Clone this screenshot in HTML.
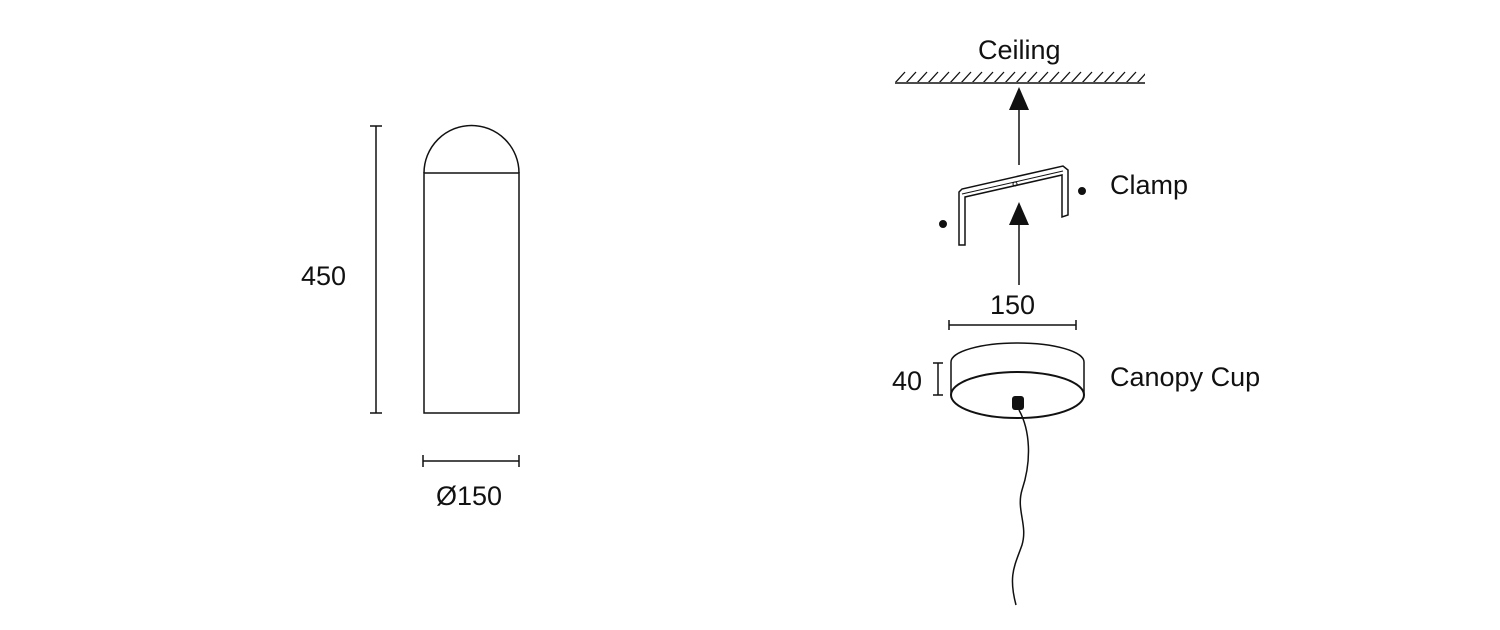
<!DOCTYPE html>
<html><head><meta charset="utf-8"><style>
html,body{margin:0;padding:0;background:#fff;}
svg{display:block;}
text{font-family:"Liberation Sans",sans-serif;fill:#111;font-size:27px;}
</style></head><body>
<svg width="1500" height="630" viewBox="0 0 1500 630" xmlns="http://www.w3.org/2000/svg">
<defs><pattern id="h" x="895" y="71" width="11" height="12" patternUnits="userSpaceOnUse"><line x1="0" y1="12" x2="10" y2="1" stroke="#111" stroke-width="1.3"/></pattern></defs>
<g fill="none" stroke="#111" stroke-width="1.5">
<rect x="424" y="173" width="95" height="240"/>
<path d="M424 173 A47.5 47.5 0 0 1 519 173"/>
<line x1="376" y1="126" x2="376" y2="413"/>
<line x1="370" y1="126" x2="382" y2="126"/>
<line x1="370" y1="413" x2="382" y2="413"/>
<line x1="423" y1="461" x2="519" y2="461"/>
<line x1="423" y1="455" x2="423" y2="467"/>
<line x1="519" y1="455" x2="519" y2="467"/>
<line x1="895" y1="83" x2="1145" y2="83"/>
<line x1="1019" y1="100" x2="1019" y2="165"/>
<line x1="1019" y1="220" x2="1019" y2="285"/>
<path d="M959 192 L962 189 L1063 166 L1068 170 L1068 215 L1062 217 L1062 175 L965 197 L965 245 L959 245 Z"/>
<line x1="962" y1="194" x2="1063" y2="171" stroke-width="1"/>
<line x1="949" y1="325" x2="1076" y2="325"/>
<line x1="949" y1="320" x2="949" y2="330"/>
<line x1="1076" y1="320" x2="1076" y2="330"/>
<line x1="938" y1="363" x2="938" y2="395"/>
<line x1="933" y1="363" x2="943" y2="363"/>
<line x1="933" y1="395" x2="943" y2="395"/>
<path d="M951 362 A66.5 19 0 0 1 1084 362 L1084 395"/>
<line x1="951" y1="362" x2="951" y2="395"/>
<ellipse cx="1017.5" cy="395" rx="66.5" ry="23" stroke-width="2"/>
<path d="M1019 410 C1030 430 1032 460 1022 490 C1016 510 1028 525 1022 545 C1015 565 1008 575 1016 605"/>
</g>
<rect x="895" y="71" width="250" height="11" fill="url(#h)"/>
<path d="M1019 87 L1009 110 L1029 110 Z" fill="#111"/>
<path d="M1019 202 L1009 225 L1029 225 Z" fill="#111"/>
<rect x="1012" y="396" width="12" height="14" rx="3" fill="#111"/>
<circle cx="1015" cy="184" r="2" fill="none" stroke="#111"/>
<circle cx="1082" cy="191" r="3.5" fill="#111" stroke="#111" stroke-width="1"/>
<circle cx="943" cy="224" r="3.5" fill="#111" stroke="#111" stroke-width="1"/>
<text x="301" y="285">450</text>
<text x="436" y="505">Ø150</text>
<text x="978" y="59">Ceiling</text>
<text x="1110" y="194">Clamp</text>
<text x="990" y="314">150</text>
<text x="892" y="390">40</text>
<text x="1110" y="386">Canopy Cup</text>
</svg>
</body></html>
